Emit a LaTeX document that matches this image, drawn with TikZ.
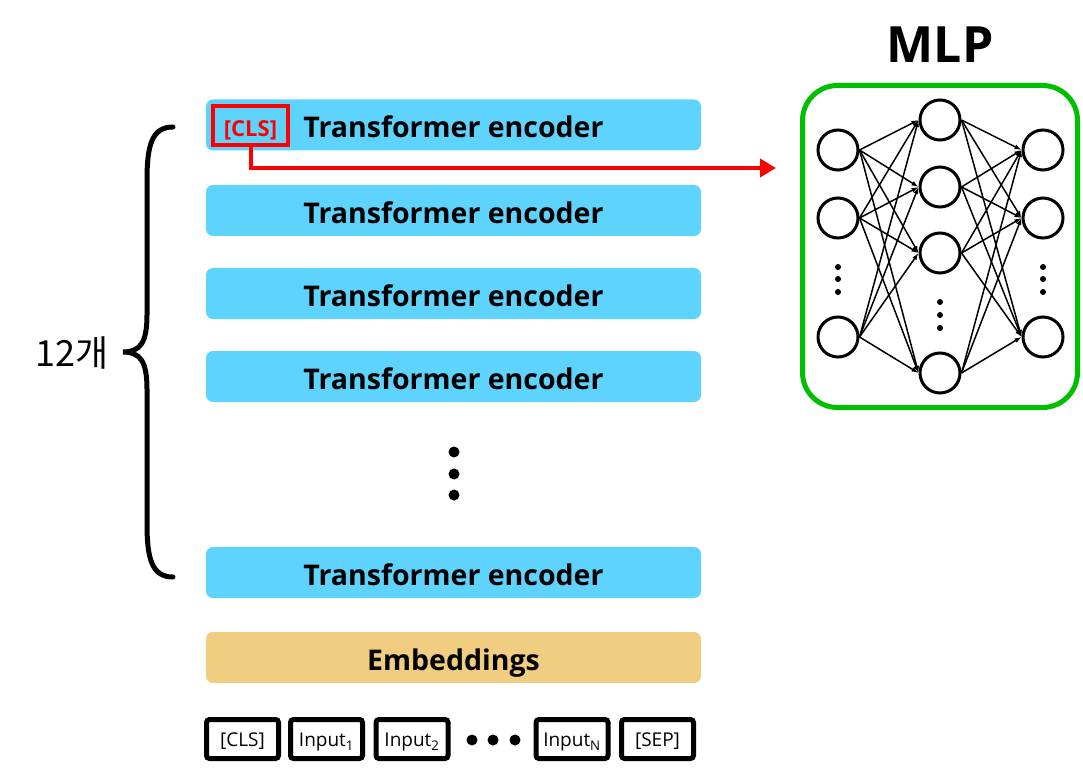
\documentclass[tikz,border=0pt]{standalone}
\usepackage{fontspec}
\setmainfont{Open Sans}
\newfontfamily\krfont{Noto Sans CJK KR}
\usetikzlibrary{arrows.meta}
\definecolor{encBlue}{RGB}{94,211,254}
\definecolor{embYellow}{RGB}{240,205,128}
\definecolor{mlpGreen}{RGB}{0,190,0}

\begin{document}
\begin{tikzpicture}[x=1pt,y=-1pt]
\tikzset{
  encNode/.style={
    fill=encBlue,
                   rounded corners=7pt,
                   minimum width=495pt,
                   minimum height=51pt,
                   text height=26pt,
                   text depth=0pt,
                   font=\fontsize{28.5}{32}\selectfont\bfseries
    },
  tokNode/.style={
    draw,
                   line width=5pt,
                   rounded corners=3pt,
                   minimum width=72pt,
                   minimum height=39pt,
                   text height=15.5pt,
                   text depth=0pt,
                   font=\fontsize{19}{22}\selectfont
    },
  neuron/.style={
    circle,
                   draw,
                   line width=3pt,
                   fill=white,
                   minimum size=40pt
    },
  dotNode/.style={
    circle,
                   fill,
                   inner sep=0pt,
                   minimum size=#1
    }
}
    \useasboundingbox (0,0) rectangle (1083,783);

    % encoder stack
    \node (E1)[encNode] at (453.5,125) {Transformer encoder};
    \node (E2)[encNode] at (453.5,210.5) {Transformer encoder};
    \node (E3)[encNode] at (453.5,293.5) {Transformer encoder};
    \node (E4)[encNode] at (453.5,376.5) {Transformer encoder};
    \node (E5)[encNode] at (453.5,572.5) {Transformer encoder};
    \node (Emb)[encNode, fill=embYellow] at (453.5,657.5) {Embeddings};

    \node (v1)[dotNode=11pt] at (454,452) {};
    \node (v2)[dotNode=11pt] at (454,474) {};
    \node (v3)[dotNode=11pt] at (454,495) {};

    % input tokens
    \node (tCLS)[tokNode] at (242.5,739) {[CLS]};
    \node (tIn1)[tokNode] at (326.5,739) {Input\textsubscript{1}};
    \node (tIn2)[tokNode] at (412,739) {Input\textsubscript{2}};
    \node (tInN)[tokNode] at (572,739) {Input\textsubscript{N}};
    \node (tSEP)[tokNode] at (657.5,739) {[SEP]};
    \node (h1)[dotNode=11pt] at (472,740) {};
    \node (h2)[dotNode=11pt] at (493,740) {};
    \node (h3)[dotNode=11pt] at (515,740) {};

    % brace
    \draw[line width=5pt, line cap=round]
      (173,127) .. controls (152,127) and (147,145) .. (147,180) -- (147,315)
      .. controls (147,343) and (140,352) .. (123,352)
      .. controls (140,352) and (147,361) .. (147,389) -- (147,524)
      .. controls (147,559) and (152,577) .. (173,577);
    \node (cnt)[font=\krfont\fontsize{36}{40}\selectfont] at (72,353) {12개};

    % CLS output
    \node (cls)[draw=red, line width=4pt, text=red, minimum width=75pt, minimum height=39pt,
      inner sep=0pt, text height=22pt, text depth=0pt,
      font=\fontsize{22}{26}\selectfont\bfseries] at (250.5,125.5) {[CLS]};
    \coordinate (tip) at (776,168);
    \draw[-{Triangle[length=16pt,width=18pt]}, red, line width=4pt] (cls.south) |- (tip);

    % MLP
    \node (mlp)[draw=mlpGreen, line width=5pt, rounded corners=35pt,
      minimum width=275pt, minimum height=322pt] at (940,246.5) {};
    \node (mlpT)[font=\fontsize{50}{54}\selectfont\bfseries] at (940,45) {MLP};

    \node (a1)[neuron] at (838,150) {};
    \node (a2)[neuron] at (838,218) {};
    \node (a3)[neuron] at (838,337) {};
    \node (b1)[neuron] at (940,120) {};
    \node (b2)[neuron] at (940,187) {};
    \node (b3)[neuron] at (940,253) {};
    \node (b4)[neuron] at (940,373) {};
    \node (c1)[neuron] at (1043,150) {};
    \node (c2)[neuron] at (1043,218) {};
    \node (c3)[neuron] at (1043,337) {};

    \node (ad1)[dotNode=6pt] at (838,267) {};
    \node (ad2)[dotNode=6pt] at (838,279) {};
    \node (ad3)[dotNode=6pt] at (838,292) {};
    \node (bd1)[dotNode=6pt] at (940,302) {};
    \node (bd2)[dotNode=6pt] at (940,315) {};
    \node (bd3)[dotNode=6pt] at (940,328) {};
    \node (cd1)[dotNode=6pt] at (1043,267) {};
    \node (cd2)[dotNode=6pt] at (1043,279) {};
    \node (cd3)[dotNode=6pt] at (1043,292) {};

    \draw[->, line width=1.5pt, >={Latex[length=7pt,width=5pt]}] (a1.east) -- (b1.west);
    \draw[->, line width=1.5pt, >={Latex[length=7pt,width=5pt]}] (a1.east) -- (b2.west);
    \draw[->, line width=1.5pt, >={Latex[length=7pt,width=5pt]}] (a1.east) -- (b3.west);
    \draw[->, line width=1.5pt, >={Latex[length=7pt,width=5pt]}] (a1.east) -- (b4.west);
    \draw[->, line width=1.5pt, >={Latex[length=7pt,width=5pt]}] (a2.east) -- (b1.west);
    \draw[->, line width=1.5pt, >={Latex[length=7pt,width=5pt]}] (a2.east) -- (b2.west);
    \draw[->, line width=1.5pt, >={Latex[length=7pt,width=5pt]}] (a2.east) -- (b3.west);
    \draw[->, line width=1.5pt, >={Latex[length=7pt,width=5pt]}] (a2.east) -- (b4.west);
    \draw[->, line width=1.5pt, >={Latex[length=7pt,width=5pt]}] (a3.east) -- (b1.west);
    \draw[->, line width=1.5pt, >={Latex[length=7pt,width=5pt]}] (a3.east) -- (b2.west);
    \draw[->, line width=1.5pt, >={Latex[length=7pt,width=5pt]}] (a3.east) -- (b3.west);
    \draw[->, line width=1.5pt, >={Latex[length=7pt,width=5pt]}] (a3.east) -- (b4.west);
    \draw[->, line width=1.5pt, >={Latex[length=7pt,width=5pt]}] (b1.east) -- (c1.west);
    \draw[->, line width=1.5pt, >={Latex[length=7pt,width=5pt]}] (b1.east) -- (c2.west);
    \draw[->, line width=1.5pt, >={Latex[length=7pt,width=5pt]}] (b1.east) -- (c3.west);
    \draw[->, line width=1.5pt, >={Latex[length=7pt,width=5pt]}] (b2.east) -- (c1.west);
    \draw[->, line width=1.5pt, >={Latex[length=7pt,width=5pt]}] (b2.east) -- (c2.west);
    \draw[->, line width=1.5pt, >={Latex[length=7pt,width=5pt]}] (b2.east) -- (c3.west);
    \draw[->, line width=1.5pt, >={Latex[length=7pt,width=5pt]}] (b3.east) -- (c1.west);
    \draw[->, line width=1.5pt, >={Latex[length=7pt,width=5pt]}] (b3.east) -- (c2.west);
    \draw[->, line width=1.5pt, >={Latex[length=7pt,width=5pt]}] (b3.east) -- (c3.west);
    \draw[->, line width=1.5pt, >={Latex[length=7pt,width=5pt]}] (b4.east) -- (c1.west);
    \draw[->, line width=1.5pt, >={Latex[length=7pt,width=5pt]}] (b4.east) -- (c2.west);
    \draw[->, line width=1.5pt, >={Latex[length=7pt,width=5pt]}] (b4.east) -- (c3.west);

\end{tikzpicture}
\end{document}
